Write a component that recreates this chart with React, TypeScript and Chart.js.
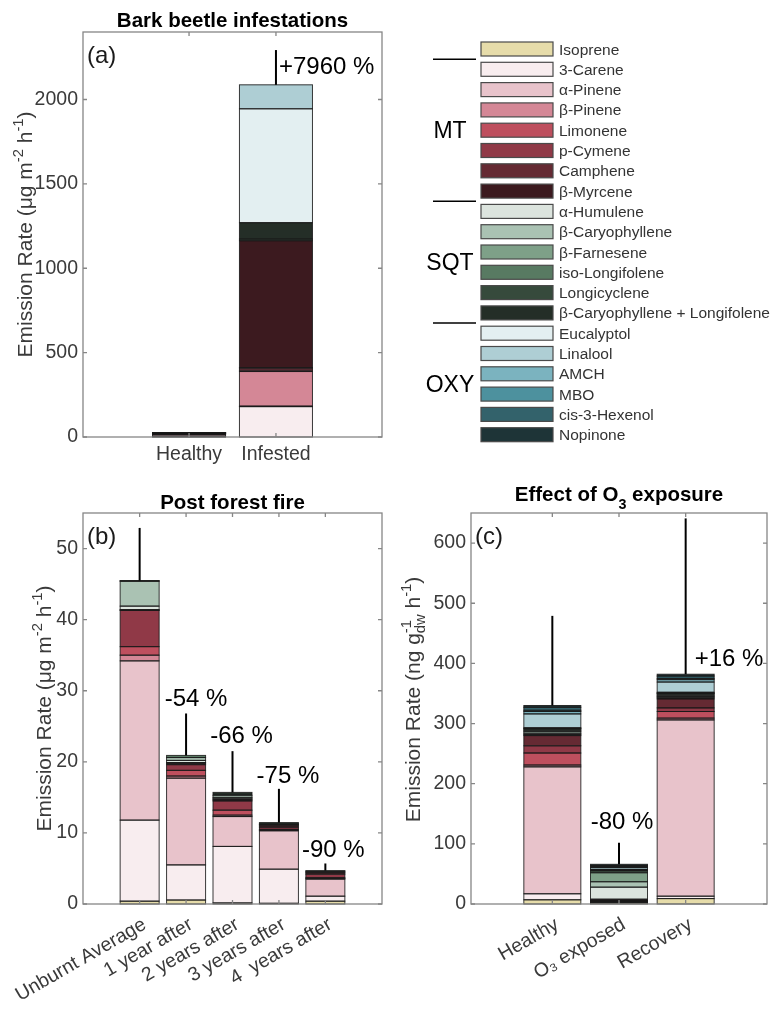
import React, { useEffect, useRef } from 'react';
import { Chart, registerables } from 'chart.js';

Chart.register(...registerables);

const FONT = '"Liberation Sans", Arial, Helvetica, sans-serif';
const TICK_COLOR = '#3a3a3a';

// ---------------- compounds (stack order = legend order) ----------------
const compounds = [
  'Isoprene', '3-Carene', 'α-Pinene', 'β-Pinene', 'Limonene', 'p-Cymene', 'Camphene', 'β-Myrcene',
  'α-Humulene', 'β-Caryophyllene', 'β-Farnesene', 'iso-Longifolene', 'Longicyclene',
  'β-Caryophyllene + Longifolene', 'Eucalyptol', 'Linalool', 'AMCH', 'MBO', 'cis-3-Hexenol', 'Nopinone',
];
const compoundColors = [
  '#E6DCAA', '#F8EDEF', '#E8C3CB', '#D48796', '#BE4F5E', '#903947', '#652A33', '#3C1A1F',
  '#DCE4DE', '#AAC2B3', '#7EA088', '#587A62', '#364A3C', '#242E27',
  '#E3EFF1', '#AECED4', '#7BB3BF', '#4D919E', '#33626B', '#1E3437',
];
const groupLabels = ['MT', 'SQT', 'OXY'];
const groupFirst = [1, 8, 14];
const groupLast = [7, 13, 19];

// ---------------- (a) Bark beetle infestations ----------------
const beetleCategories = ['Healthy', 'Infested'];
// one row per compound: [Healthy, Infested]
const beetleValues = [
  [0.5, 0], [3, 180], [9, 3], [4, 205], [2, 8], [1, 12], [1, 3], [2, 752],
  [0.5, 0], [1, 0], [0.5, 0], [0.3, 0], [0.2, 10], [0.5, 97],
  [0.5, 675], [0.5, 142], [0, 0], [0, 0], [0, 0], [0, 0],
];
const beetleErrorTop = [null, 2293];
const beetleChange = ['', '+7960 %'];
const beetleYTicks = [0, 500, 1000, 1500, 2000];
const beetleYMax = 2400;

// ---------------- (b) Post forest fire ----------------
const fireCategories = ['Unburnt Average', '1 year after', '2 years after', '3 years after', '4  years after'];
// one row per compound: [Unburnt, 1y, 2y, 3y, 4y]
const fireValues = [
  [0.4, 0.56, 0.15, 0.1, 0.4],
  [11.4, 4.94, 7.95, 4.8, 0.7],
  [22.4, 12.2, 4.2, 5.4, 2.4],
  [0.8, 0.3, 0.2, 0.1, 0.1],
  [1.2, 0.8, 0.7, 0.1, 0.1],
  [5.1, 0.8, 1.3, 0.3, 0.5],
  [0.05, 0.2, 0.15, 0.2, 0.2],
  [0.05, 0.1, 0.15, 0.2, 0.2],
  [0.5, 0.3, 0.2, 0, 0],
  [3.5, 0.4, 0.3, 0.05, 0.1],
  [0.05, 0, 0, 0, 0],
  [0.05, 0.3, 0, 0, 0],
  [0, 0, 0, 0.2, 0],
  [0, 0, 0.4, 0, 0],
  [0, 0, 0, 0, 0],
  [0, 0, 0, 0, 0],
  [0, 0, 0, 0, 0],
  [0, 0, 0, 0, 0],
  [0, 0, 0, 0, 0],
  [0, 0, 0, 0, 0],
];
const fireErrorTop = [52.9, 26.8, 21.5, 16.2, 5.7];
const fireChange = ['', '-54 %', '-66 %', '-75 %', '-90 %'];
const fireYTicks = [0, 10, 20, 30, 40, 50];
const fireYMax = 55;

// ---------------- (c) Effect of O3 exposure ----------------
const ozoneCategories = ['Healthy', 'O₃ exposed', 'Recovery'];
// one row per compound: [Healthy, O3 exposed, Recovery]
const ozoneValues = [
  [7, 2, 9], [10, 1, 4], [211, 1, 293], [3, 0.5, 3], [20, 0.5, 11], [12, 0.5, 6], [17, 0.5, 15], [2, 2, 2],
  [2, 20, 2], [3, 9, 2], [2, 15, 2], [2, 3, 1], [1, 1, 1], [0, 1, 0],
  [1, 0.5, 1], [23, 3, 17], [4, 1, 4], [2, 1, 2], [5, 1.5, 4], [3, 2, 3],
];
const ozoneErrorTop = [479, 102, 641];
const ozoneChange = ['', '-80 %', '+16 %'];
const ozoneYTicks = [0, 100, 200, 300, 400, 500, 600];
const ozoneYMax = 650;

// ---------------- drawing helpers ----------------
type Seg = { t: string; k?: 'sup' | 'sub'; stack?: boolean };
type Placement = { ref: 'err' | 'bar'; dx: number; dy: number; align: CanvasTextAlign };

function segFont(size: number, weight: string, k?: string) {
  const s = k ? size * 0.7 : size;
  return `${weight} ${s}px ${FONT}`;
}

function layoutRich(ctx: CanvasRenderingContext2D, segs: Seg[], size: number, weight: string) {
  let w = 0, lastStart = 0, lastW = 0;
  const pos: number[] = [];
  for (const s of segs) {
    ctx.font = segFont(size, weight, s.k);
    const sw = ctx.measureText(s.t).width;
    if (s.stack) {
      pos.push(lastStart);
      const nw = Math.max(lastW, sw);
      w = lastStart + nw;
      lastW = nw;
    } else {
      pos.push(w);
      lastStart = w;
      lastW = sw;
      w += sw;
    }
  }
  return { w, pos };
}

function drawRich(ctx: CanvasRenderingContext2D, segs: Seg[], x: number, y: number, size: number, weight: string, color: string, subDrop: number) {
  const { pos } = layoutRich(ctx, segs, size, weight);
  ctx.fillStyle = color;
  ctx.textAlign = 'left';
  ctx.textBaseline = 'alphabetic';
  segs.forEach((s, i) => {
    ctx.font = segFont(size, weight, s.k);
    const dy = s.k === 'sup' ? -0.42 * size : s.k === 'sub' ? subDrop * size : 0;
    ctx.fillText(s.t, x + pos[i], y + dy);
  });
}

interface Panel {
  categories: string[];
  values: number[][];
  errTop: (number | null)[];
  change: string[];
  yTicks: number[];
  yMax: number;
  width: number;
  height: number;
  left: number;
  top: number;
  area: { left: number; top: number; right: number; bottom: number };
  rotation: number;
  barPct: number;
  title: Seg[];
  titleY: number;
  titleSubDrop: number;
  yTitle: Seg[];
  yTitleX: number;
  yTitleShift: number;
  yTitleSubDrop: number;
  tag: string;
  place: (Placement | null)[];
  legend: boolean;
  xLabelPad: number;
  xLabelShift: number;
}

function makeDecor(p: Panel) {
  const totals = p.categories.map((_, j) => p.values.reduce((s, row) => s + row[j], 0));
  return {
    id: 'decor',
    afterDatasetsDraw(chart: any) {
      const { ctx, chartArea: a } = chart;
      const xs = chart.scales.x;
      const ys = chart.scales.y;
      ctx.save();
      // bar segment edges (constant-width outlines, like MATLAB patch edges)
      ctx.strokeStyle = 'rgba(25,25,25,0.85)';
      ctx.lineWidth = 1;
      chart.data.datasets.forEach((_: any, i: number) => {
        const meta = chart.getDatasetMeta(i);
        meta.data.forEach((el: any, j: number) => {
          if (!p.values[i][j]) return;
          const { x, y, base, width } = el.getProps(['x', 'y', 'base', 'width'], true);
          ctx.strokeRect(x - width / 2, Math.min(y, base), width, Math.abs(base - y));
        });
      });
      // axes box
      ctx.strokeStyle = '#868686';
      ctx.lineWidth = 1.3;
      ctx.strokeRect(a.left, a.top, a.right - a.left, a.bottom - a.top);
      // inward tick marks on all four sides
      const tl = 4;
      ctx.beginPath();
      ys.ticks.forEach((t: any) => {
        const y = ys.getPixelForValue(t.value);
        ctx.moveTo(a.left, y); ctx.lineTo(a.left + tl, y);
        ctx.moveTo(a.right, y); ctx.lineTo(a.right - tl, y);
      });
      xs.ticks.forEach((t: any) => {
        const x = xs.getPixelForValue(t.value);
        ctx.moveTo(x, a.bottom); ctx.lineTo(x, a.bottom - tl);
        ctx.moveTo(x, a.top); ctx.lineTo(x, a.top + tl);
      });
      ctx.stroke();
      // error bars (upper)
      ctx.strokeStyle = '#000';
      ctx.lineWidth = 2;
      p.errTop.forEach((e, j) => {
        if (e == null) return;
        const x = xs.getPixelForValue(j);
        ctx.beginPath();
        ctx.moveTo(x, ys.getPixelForValue(totals[j]));
        ctx.lineTo(x, ys.getPixelForValue(e));
        ctx.stroke();
      });
      // change labels
      ctx.font = `24px ${FONT}`;
      ctx.fillStyle = '#000';
      ctx.textBaseline = 'middle';
      p.change.forEach((t, j) => {
        const pl = p.place[j];
        if (!t || !pl) return;
        const refV = pl.ref === 'err' ? (p.errTop[j] as number) : totals[j];
        ctx.textAlign = pl.align;
        ctx.fillText(t, xs.getPixelForValue(j) + pl.dx, ys.getPixelForValue(refV) + pl.dy);
      });
      ctx.restore();
    },
    afterDraw(chart: any) {
      const { ctx, chartArea: a } = chart;
      ctx.save();
      // title
      const tw = layoutRich(ctx, p.title, 20.5, 'bold').w;
      drawRich(ctx, p.title, (a.left + a.right) / 2 - tw / 2, p.titleY, 20.5, 'bold', '#000', p.titleSubDrop);
      // y axis title
      ctx.save();
      ctx.translate(p.yTitleX, (a.top + a.bottom) / 2 + p.yTitleShift);
      ctx.rotate(-Math.PI / 2);
      const yw = layoutRich(ctx, p.yTitle, 21, 'normal').w;
      drawRich(ctx, p.yTitle, -yw / 2, 0, 21, 'normal', '#3a3a3a', p.yTitleSubDrop);
      ctx.restore();
      // panel tag
      ctx.font = `24px ${FONT}`;
      ctx.fillStyle = '#1a1a1a';
      ctx.textAlign = 'left';
      ctx.textBaseline = 'alphabetic';
      ctx.fillText(p.tag, a.left + 4, a.top + 31);
      // legend
      if (p.legend) {
        const boxX = 481, boxW = 72, boxH = 14, y0 = 49, dy = 20.3, textX = 559;
        chart.data.datasets.forEach((ds: any, i: number) => {
          const cy = y0 + i * dy;
          ctx.fillStyle = ds.backgroundColor;
          ctx.fillRect(boxX, cy - boxH / 2, boxW, boxH);
          ctx.strokeStyle = '#4a4a4a';
          ctx.lineWidth = 1.2;
          ctx.strokeRect(boxX, cy - boxH / 2, boxW, boxH);
          ctx.fillStyle = '#333';
          ctx.font = `15.5px ${FONT}`;
          ctx.textAlign = 'left';
          ctx.textBaseline = 'alphabetic';
          ctx.fillText(ds.label, textX, cy + 5.5);
        });
        ctx.strokeStyle = '#000';
        ctx.lineWidth = 1.5;
        groupLabels.forEach((g, k) => {
          const ly = y0 + (groupFirst[k] - 0.5) * dy;
          ctx.beginPath();
          ctx.moveTo(433, ly);
          ctx.lineTo(476, ly);
          ctx.stroke();
          const cy = y0 + ((groupFirst[k] + groupLast[k]) / 2) * dy;
          ctx.fillStyle = '#000';
          ctx.font = `23px ${FONT}`;
          ctx.textAlign = 'center';
          ctx.fillText(g, 450, cy + 8.2);
        });
      }
      ctx.restore();
    },
  };
}

function buildChart(canvas: HTMLCanvasElement, p: Panel) {
  const n = p.categories.length;
  const datasets = compounds.map((name, i) => ({
    label: name,
    data: p.categories.map((_, j) => ({ x: j, y: p.values[i][j] })),
    backgroundColor: compoundColors[i],
    borderWidth: 0,
    inflateAmount: 0,
    barPercentage: p.barPct,
    categoryPercentage: 1,
  }));
  const tickFont = { family: FONT, size: 19.5 };
  return new Chart(canvas, {
    type: 'bar',
    data: { datasets } as any,
    options: {
      responsive: false,
      animation: false,
      events: [],
      layout: { padding: { left: 0, top: p.area.top, right: p.width - p.area.right, bottom: 0 } },
      plugins: { legend: { display: false }, tooltip: { enabled: false }, title: { display: false } },
      scales: {
        x: {
          type: 'linear',
          offset: false,
          stacked: true,
          min: -1.22,
          max: n - 1 + 1.22,
          grid: { display: false, drawTicks: false, offset: false },
          border: { display: false },
          afterBuildTicks: (s: any) => { s.ticks = p.categories.map((_, j) => ({ value: j })); },
          afterFit: (s: any) => { s.height = p.height - p.area.bottom; s.paddingLeft = 0; s.paddingRight = 0; },
          ticks: {
            autoSkip: false,
            minRotation: p.rotation,
            maxRotation: p.rotation,
            padding: p.xLabelPad,
            labelOffset: p.xLabelShift,
            color: TICK_COLOR,
            font: tickFont,
            callback: (v: any) => p.categories[v as number] ?? '',
          },
        },
        y: {
          type: 'linear',
          stacked: true,
          min: 0,
          max: p.yMax,
          grid: { display: false, drawTicks: false },
          border: { display: false },
          afterBuildTicks: (s: any) => { s.ticks = p.yTicks.map((v) => ({ value: v })); },
          afterFit: (s: any) => { s.width = p.area.left; s.paddingTop = 0; s.paddingBottom = 0; },
          ticks: { padding: 5, color: TICK_COLOR, font: tickFont, callback: (v: any) => String(v) },
        },
      },
    } as any,
    plugins: [makeDecor(p) as any],
  });
}

const yTitleUg: Seg[] = [{ t: 'Emission Rate (μg m' }, { t: '-2', k: 'sup' }, { t: ' h' }, { t: '-1', k: 'sup' }, { t: ')' }];

const panelA: Panel = {
  categories: beetleCategories, values: beetleValues, errTop: beetleErrorTop, change: beetleChange,
  yTicks: beetleYTicks, yMax: beetleYMax,
  width: 775, height: 470, left: 0, top: 0,
  area: { left: 83, top: 32, right: 382, bottom: 437 },
  rotation: 0, barPct: 0.84,
  title: [{ t: 'Bark beetle infestations' }], titleY: 27, titleSubDrop: 0.35,
  yTitle: yTitleUg, yTitleX: 32, yTitleShift: 0, yTitleSubDrop: 0.25,
  tag: '(a)',
  place: [null, { ref: 'err', dx: 3, dy: 17.5, align: 'left' }],
  legend: true, xLabelPad: 6, xLabelShift: 0,
};

const panelB: Panel = {
  categories: fireCategories, values: fireValues, errTop: fireErrorTop, change: fireChange,
  yTicks: fireYTicks, yMax: fireYMax,
  width: 390, height: 541, left: 0, top: 470,
  area: { left: 83, top: 43, right: 382, bottom: 434 },
  rotation: 30, barPct: 0.84,
  title: [{ t: 'Post forest fire' }], titleY: 39, titleSubDrop: 0.35,
  yTitle: yTitleUg, yTitleX: 51, yTitleShift: 0, yTitleSubDrop: 0.25,
  tag: '(b)',
  place: [
    null,
    { ref: 'err', dx: 10, dy: -14.5, align: 'center' },
    { ref: 'err', dx: 9, dy: -14.3, align: 'center' },
    { ref: 'err', dx: 9, dy: -12.5, align: 'center' },
    { ref: 'err', dx: 8, dy: -13.5, align: 'center' },
  ],
  legend: false, xLabelPad: 9, xLabelShift: 5,
};

const panelC: Panel = {
  categories: ozoneCategories, values: ozoneValues, errTop: ozoneErrorTop, change: ozoneChange,
  yTicks: ozoneYTicks, yMax: ozoneYMax,
  width: 390, height: 541, left: 385, top: 470,
  area: { left: 86, top: 43, right: 382, bottom: 434 },
  rotation: 30, barPct: 0.855,
  title: [{ t: 'Effect of O' }, { t: '3', k: 'sub' }, { t: ' exposure' }], titleY: 31, titleSubDrop: 0.38,
  yTitle: [
    { t: 'Emission Rate (ng g' }, { t: '-1', k: 'sup' }, { t: 'dw', k: 'sub', stack: true },
    { t: ' h' }, { t: '-1', k: 'sup' }, { t: ')' },
  ],
  yTitleX: 35, yTitleShift: -9, yTitleSubDrop: 0.25,
  tag: '(c)',
  place: [
    null,
    { ref: 'err', dx: 3, dy: -20, align: 'center' },
    { ref: 'bar', dx: 9, dy: -15, align: 'left' },
  ],
  legend: false, xLabelPad: 9, xLabelShift: 5,
};

const panels = [panelA, panelB, panelC];

export default function App() {
  const refs = [useRef<HTMLCanvasElement>(null), useRef<HTMLCanvasElement>(null), useRef<HTMLCanvasElement>(null)];
  useEffect(() => {
    const charts = panels.map((p, i) => buildChart(refs[i].current as HTMLCanvasElement, p));
    return () => charts.forEach((c) => c.destroy());
  }, []);
  return (
    <div style={{ position: 'absolute', left: 0, top: 0, width: 775, height: 1011, background: '#fff', overflow: 'hidden' }}>
      {panels.map((p, i) => (
        <canvas
          key={i}
          ref={refs[i]}
          width={p.width}
          height={p.height}
          style={{ position: 'absolute', left: p.left, top: p.top, width: p.width, height: p.height, display: 'block' }}
        />
      ))}
    </div>
  );
}
